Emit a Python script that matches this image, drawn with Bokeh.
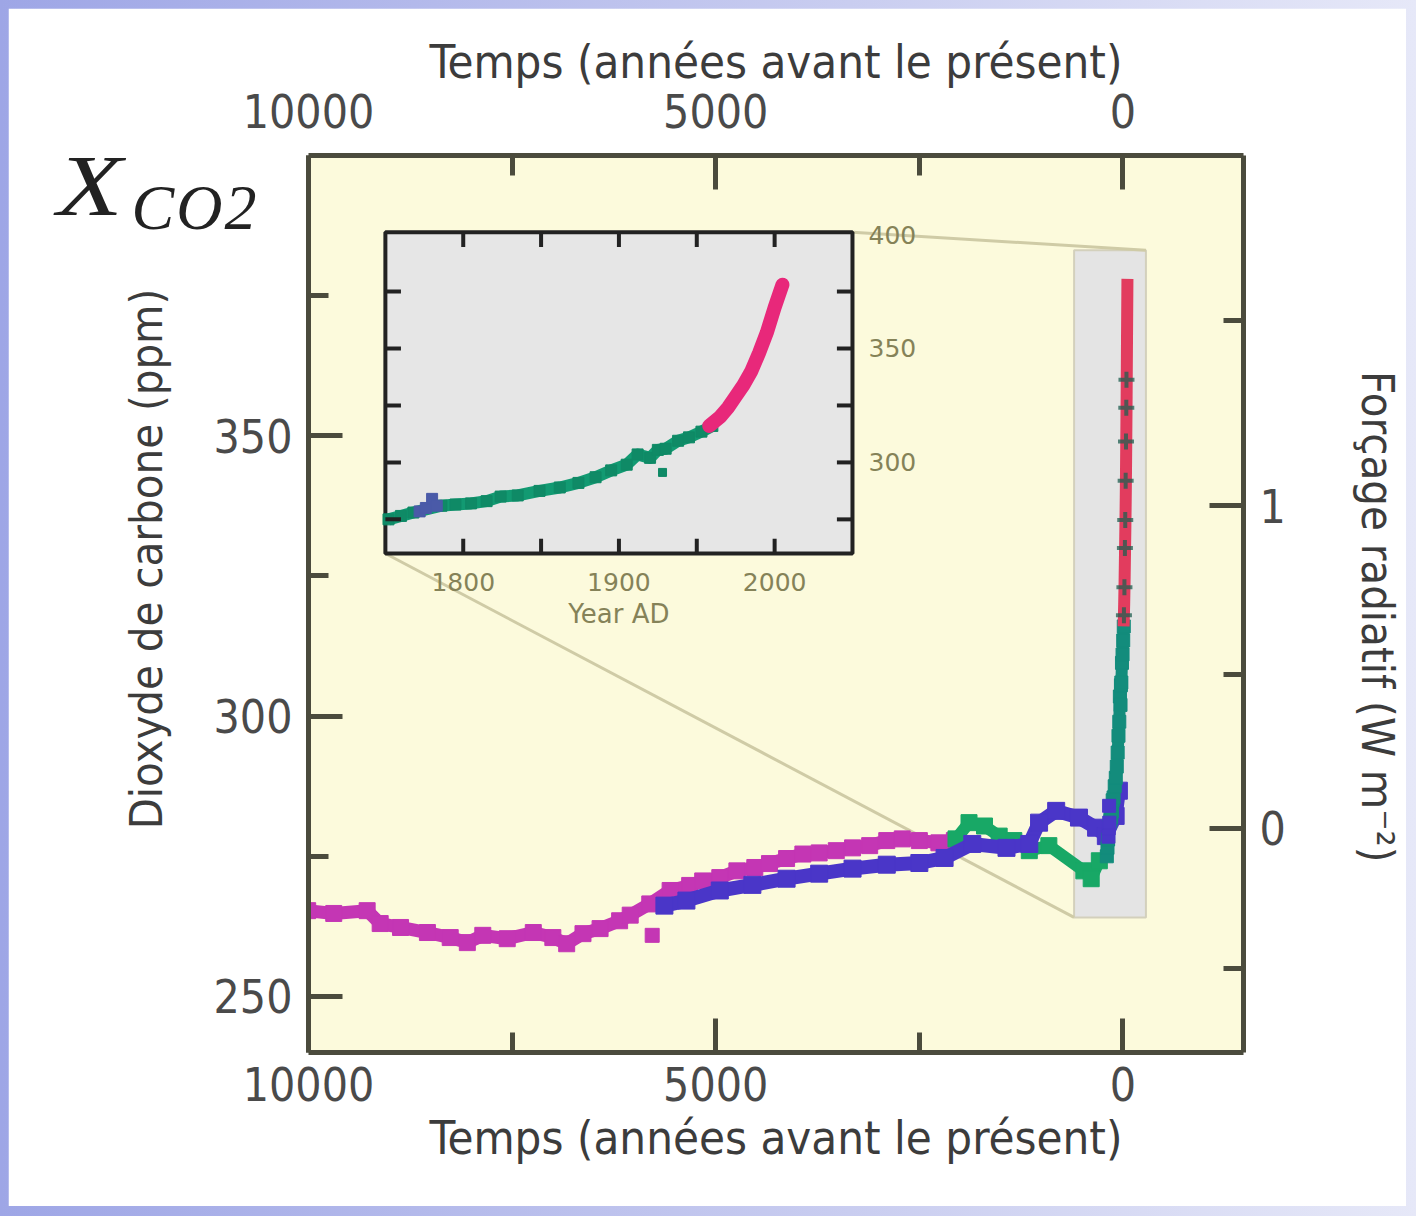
import math
from bokeh.plotting import figure
from bokeh.models import Range1d, LinearAxis, FixedTicker, CustomJSTickFormatter, Div
from bokeh.layouts import column
from bokeh.embed import file_html
from bokeh.resources import INLINE
from bokeh.core.properties import value

# ---------------- data ----------------
# Main panel: years before present (BP) and CO2 (ppm)
magenta_bp = [10010, 9690, 9280, 9120, 8870, 8540, 8260, 8050, 7860, 7560, 7240, 7000,
              6830, 6630, 6420, 6180, 6050, 5810, 5560, 5320, 5160, 4950, 4740, 4520,
              4340, 4130, 3930, 3730, 3520, 3320, 3110, 2900, 2710, 2500, 2260, 2070]
magenta_ppm = [265.3, 264.8, 265.3, 263.0, 262.3, 261.4, 260.5, 259.6, 260.9, 260.3, 261.4, 260.5,
               259.4, 261.2, 262.1, 263.5, 264.5, 266.5, 268.9, 269.8, 270.6, 271.2, 272.4, 273.0,
               273.7, 274.6, 275.4, 275.6, 276.0, 276.5, 276.9, 277.8, 278.1, 277.8, 277.4, 277.8]
magenta_out_bp = [5780]
magenta_out_ppm = [260.9]

blue_bp = [5630, 5360, 4950, 4550, 4130, 3730, 3320, 2900, 2500, 2190, 1850, 1430,
           1150, 1030, 820, 540, 330, 210, 90, 50]
blue_ppm = [266.2, 267.1, 268.9, 269.9, 271.0, 271.9, 272.8, 273.5, 273.8, 274.7, 277.2, 276.5,
            277.2, 281.0, 283.1, 281.9, 280.1, 278.6, 282.2, 286.7]

green_bp = [2050, 1890, 1700, 1520, 1340, 1150, 910, 480, 390, 290]
green_ppm = [278.1, 281.0, 280.4, 278.6, 277.8, 276.0, 276.9, 272.4, 271.0, 274.2]

firn_ad = [1962, 1968, 1974, 1978, 1983, 1987, 1991, 1993]
firn_ppm = [318, 323, 330, 335, 342, 349, 355, 360]

# Inset: year AD and CO2 (ppm)
ice_ad = [1752, 1760, 1768, 1786, 1795, 1805, 1815, 1824, 1835, 1849, 1862, 1874,
          1885, 1895, 1905, 1912, 1920, 1925, 1930, 1938, 1945, 1953, 1960]
ice_ppm = [275.0, 276.5, 278.0, 281.0, 281.5, 282.0, 283.0, 285.0, 285.5, 287.5, 289.0, 291.0,
           293.5, 296.5, 299.0, 303.5, 302.0, 305.5, 306.0, 309.5, 311.0, 313.5, 316.0]
ice_out_ad = [1928]
ice_out_ppm = [295.6]
ice_blue_ad = [1772, 1776, 1780, 1783]
ice_blue_ppm = [278.5, 280.0, 284.0, 281.0]
atm_ad = [1958, 1965, 1970, 1975, 1980, 1985, 1990, 1995, 2000, 2005]
atm_ppm = [316, 320, 324, 329, 334, 340, 348, 357, 368, 378]

x_ticks = [10000, 5000, 0]
x_minor = [7500, 2500]
y_ticks = [250, 300, 350]
y_minor = [275, 325, 375]
forcing_ticks = [0, 1]
forcing_minor = [-0.5, 0.5, 1.5]
C0 = 280.0

inset_x_ticks = [1800, 1850, 1900, 1950, 2000]
inset_x_labels = [1800, 1900, 2000]
inset_y_ticks = [275, 300, 325, 350, 375]
inset_y_labels = [300, 350, 400]

# ---------------- layout constants ----------------
X_RANGE = (10000, -1480)
Y_RANGE = (240, 400)
INSET_BOX_BP = (9056, 3321)
INSET_BOX_PPM = (329.0, 386.3)
INSET_X = (1750, 2050)
INSET_Y = (260, 401)
ZOOM_BOX_BP = (600, -282)
ZOOM_BOX_PPM = (264.1, 383.1)

FONT = "DejaVu Sans Condensed, Liberation Sans Narrow, DejaVu Sans"
FRAME = "#4B4B3D"
TXT = "#3C3C3C"
OLIVE = "#858258"
NB = "\u00a0"


def lin(v, a0, a1, b0, b1):
    return b0 + (v - a0) * (b1 - b0) / (a1 - a0)


def to_bp(ad):
    return [1950 - a for a in ad]


def forcing_to_ppm(f):
    return C0 * math.exp(f / 5.35)


p = figure(width=1398, height=1198,
           x_range=Range1d(*X_RANGE), y_range=Range1d(*Y_RANGE),
           x_axis_location=None, y_axis_location=None,
           output_backend="svg", toolbar_location=None,
           min_border_left=300, min_border_right=161, min_border_top=147, min_border_bottom=154,
           background_fill_color="#FCFADC", border_fill_color="white", outline_line_color=None)
p.grid.visible = False

p.extra_x_ranges = {"ix": Range1d(lin(X_RANGE[0], *INSET_BOX_BP, *INSET_X),
                                  lin(X_RANGE[1], *INSET_BOX_BP, *INSET_X))}
p.extra_y_ranges = {"iy": Range1d(lin(Y_RANGE[0], *INSET_BOX_PPM, *INSET_Y),
                                  lin(Y_RANGE[1], *INSET_BOX_PPM, *INSET_Y))}


def style_axis(ax, ticks, minor, label, label_size="46px"):
    ax.ticker = FixedTicker(ticks=ticks, minor_ticks=minor)
    ax.axis_line_width = 5
    ax.axis_line_color = FRAME
    ax.major_tick_in = 34
    ax.major_tick_out = 0
    ax.minor_tick_in = 20
    ax.minor_tick_out = 0
    ax.major_tick_line_width = 5
    ax.minor_tick_line_width = 5
    ax.major_tick_line_color = FRAME
    ax.minor_tick_line_color = FRAME
    ax.major_label_text_font = FONT
    ax.major_label_text_font_size = "46px"
    ax.major_label_text_color = "#4A4A4A"
    ax.axis_label = label
    ax.axis_label_text_font = FONT
    ax.axis_label_text_font_size = label_size
    ax.axis_label_text_font_style = "normal"
    ax.axis_label_text_color = TXT


title_x = "Temps (années avant le présent)"
bottom = LinearAxis()
style_axis(bottom, x_ticks, x_minor, title_x, "47px")
bottom.major_label_standoff = 14
bottom.axis_label_standoff = 6
p.add_layout(bottom, "below")

top = LinearAxis()
style_axis(top, x_ticks, x_minor, title_x, "47px")
top.major_label_standoff = 28
top.axis_label_standoff = 2
p.add_layout(top, "above")

left = LinearAxis()
style_axis(left, y_ticks, y_minor, NB * 7 + "Dioxyde de carbone (ppm)", "45px")
left.major_label_standoff = 16
left.axis_label_standoff = 38
p.add_layout(left, "left")

right = LinearAxis()
style_axis(right, [forcing_to_ppm(f) for f in forcing_ticks],
           [forcing_to_ppm(f) for f in forcing_minor], NB * 2 + "Forçage radiatif (W m⁻²)", "45px")
right.formatter = CustomJSTickFormatter(code="return String(Math.round(5.35*Math.log(tick/%s)))" % C0)
right.major_label_standoff = 16
right.axis_label_standoff = 62
p.add_layout(right, "right")

# ---------------- zoom box and connectors ----------------
p.quad(left=[ZOOM_BOX_BP[0]], right=[ZOOM_BOX_BP[1]], bottom=[ZOOM_BOX_PPM[0]], top=[ZOOM_BOX_PPM[1]],
       fill_color="#E4E4E4", line_color="#D3D0BC", line_width=2)
p.segment(x0=[INSET_BOX_BP[1], INSET_BOX_BP[0]], y0=[INSET_BOX_PPM[1], INSET_BOX_PPM[0]],
          x1=[ZOOM_BOX_BP[1], ZOOM_BOX_BP[0]], y1=[ZOOM_BOX_PPM[1], ZOOM_BOX_PPM[0]],
          line_color="#CFCBA6", line_width=3)

# ---------------- main series ----------------
MAG = "#C436B4"
BLUE = "#4A36C8"
GREEN = "#18A866"
TEAL = "#138C7C"
RED = "#E23C5E"


def series(xs, ys, color, lw=13, size=16, line=True):
    if line:
        p.line(xs, ys, line_color=color, line_width=lw, line_join="round", line_cap="round")
    p.scatter(xs, ys, marker="square", size=size, fill_color=color, line_color=color)


series(magenta_bp, magenta_ppm, MAG)
series(magenta_out_bp, magenta_out_ppm, MAG, line=False, size=14)
series(green_bp, green_ppm, GREEN, lw=12, size=16)
series(blue_bp, blue_ppm, BLUE, lw=14, size=17)
series(to_bp(ice_ad), ice_ppm, TEAL, lw=12, size=13)
series(to_bp(ice_blue_ad), ice_blue_ppm, BLUE, line=False, size=13)
p.line(to_bp(atm_ad), atm_ppm, line_color=RED, line_width=12, line_cap="butt")
p.scatter(to_bp(firn_ad), firn_ppm, marker="cross", size=16, line_width=4, line_color="#1F5F50", alpha=0.75)

# ---------------- inset ----------------
IK = dict(x_range_name="ix", y_range_name="iy")
p.quad(left=[INSET_X[0]], right=[INSET_X[1]], bottom=[INSET_Y[0]], top=[INSET_Y[1]],
       fill_color="#E6E6E6", line_color="#222222", line_width=4, **IK)

p.line(ice_ad, ice_ppm, line_color="#129A72", line_width=12, line_join="round", **IK)
p.scatter(ice_ad, ice_ppm, marker="square", size=11, fill_color="#0F8A66", line_color="#0F8A66", **IK)
p.scatter(ice_out_ad, ice_out_ppm, marker="square", size=8, fill_color="#0F8A66", line_color="#0F8A66", **IK)
p.scatter(ice_blue_ad, ice_blue_ppm, marker="square", size=11, fill_color="#4A5AA8", line_color="#4A5AA8", **IK)
p.line(atm_ad, atm_ppm, line_color="#E8287A", line_width=14, line_cap="round", **IK)

tlx = 10.0  # inset tick length in years
tly = 6.5   # inset tick length in ppm
nx = len(inset_x_ticks)
ny = len(inset_y_ticks)
p.segment(x0=inset_x_ticks * 2, x1=inset_x_ticks * 2,
          y0=[INSET_Y[0]] * nx + [INSET_Y[1]] * nx,
          y1=[INSET_Y[0] + tly] * nx + [INSET_Y[1] - tly] * nx,
          line_color="#222222", line_width=4, **IK)
p.segment(x0=[INSET_X[0]] * ny + [INSET_X[1]] * ny,
          x1=[INSET_X[0] + tlx] * ny + [INSET_X[1] - tlx] * ny,
          y0=inset_y_ticks * 2, y1=inset_y_ticks * 2,
          line_color="#222222", line_width=4, **IK)

p.text(x=inset_x_labels, y=[INSET_Y[0]] * len(inset_x_labels), text=[str(v) for v in inset_x_labels],
       y_offset=28, text_align="center", text_baseline="middle", text_font=value("DejaVu Sans"),
       text_font_size="25px", text_color=OLIVE, **IK)
p.text(x=[1900], y=[INSET_Y[0]], text=["Year AD"], y_offset=60, text_align="center",
       text_baseline="middle", text_font=value("DejaVu Sans"), text_font_size="26px",
       text_color=OLIVE, **IK)
p.text(x=[INSET_X[1]] * len(inset_y_labels), y=inset_y_labels, text=[str(v) for v in inset_y_labels],
       x_offset=16, text_align="left", text_baseline="middle", text_font=value("DejaVu Sans"),
       text_font_size="25px", text_color=OLIVE, **IK)

# ---------------- X_CO2 symbol (outside the frame) ----------------
sym = Div(text=('<div style="font-family:\'Liberation Serif\',serif;font-style:italic;color:#222;'
                'line-height:1;white-space:nowrap">'
                '<span style="font-size:86px;display:inline-block;transform:scaleX(1.25);'
                'transform-origin:left">X</span>'
                '<span style="font-size:64px;margin-left:22px;position:relative;top:14px;'
                'letter-spacing:2px">CO2</span></div>'),
          width=270, height=110,
          styles={"position": "absolute", "left": "52px", "top": "138px", "overflow": "visible",
                  "z-index": "5"})

layout = column(p, sym, styles={"position": "relative",
                                "background": "linear-gradient(90deg, #9EA6E6 0%, #C9CDF0 60%, #E6E8F8 100%)",
                                "padding": "8px 10px 10px 8px"})

open("out.html", "w").write(file_html(layout, INLINE))
